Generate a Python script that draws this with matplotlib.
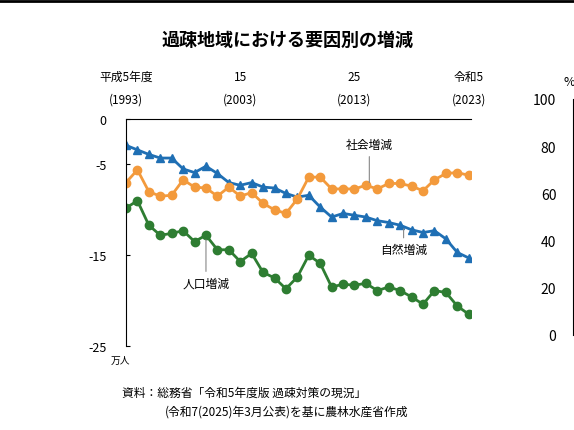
import matplotlib
matplotlib.use("Agg")
import matplotlib.pyplot as plt

plt.rcParams["font.family"] = ["Noto Sans CJK JP", "DejaVu Sans"]

years = list(range(1993, 2024))
natural = [-2.9, -3.4, -3.9, -4.3, -4.3, -5.5, -5.9, -5.2, -6.0, -7.0, -7.3, -7.0, -7.5, -7.6,
           -8.2, -8.6, -8.4, -9.7, -10.8, -10.4, -10.6, -10.8, -11.2, -11.4, -11.7, -12.2,
           -12.5, -12.3, -13.2, -14.7, -15.3]
social = [-7.0, -5.6, -8.0, -8.5, -8.4, -6.7, -7.5, -7.6, -8.5, -7.5, -8.5, -8.1, -9.3, -10.0,
          -10.4, -8.8, -6.4, -6.4, -7.7, -7.7, -7.7, -7.3, -7.7, -7.1, -7.1, -7.4, -7.9,
          -6.7, -6.0, -5.9, -6.2]
total = [-9.8, -9.0, -11.7, -12.8, -12.6, -12.3, -13.5, -12.8, -14.4, -14.4, -15.7, -14.8,
         -16.9, -17.5, -18.7, -17.4, -15.0, -15.9, -18.5, -18.2, -18.3, -18.1, -18.9, -18.5,
         -18.9, -19.6, -20.4, -18.9, -19.1, -20.6, -21.5]
top_ticks = [1993, 2003, 2013, 2023]
top_labels = ["平成5年度\n(1993)", "15\n(2003)", "25\n(2013)", "令和5\n(2023)"]
y_ticks = [0, -5, -15, -25]
right_ticks = [0, 20, 40, 60, 80, 100]

BLUE = "#1f6fb4"
ORANGE = "#f39a3c"
GREEN = "#2e7d32"

fig = plt.figure(figsize=(5.74, 4.31), dpi=100)
ax = fig.add_axes([126 / 574, 1 - 347 / 431, 345 / 574, 227 / 431])

ax.plot(years, natural, color=BLUE, marker="^", ms=6, lw=2)
ax.plot(years, social, color=ORANGE, marker="o", ms=6, lw=2)
ax.plot(years, total, color=GREEN, marker="o", ms=6, lw=2)

ax.set_xlim(1993, 2023.2)
ax.set_ylim(-25, 0)
for s in ["right", "bottom"]:
    ax.spines[s].set_visible(False)
ax.spines["top"].set_linewidth(0.8)
ax.spines["left"].set_linewidth(0.8)
ax.set_yticks(y_ticks)
ax.set_yticklabels([str(v) for v in y_ticks], fontsize=9)
ax.tick_params(axis="y", length=3, direction="in", pad=14)
ax.xaxis.tick_top()
ax.set_xticks(top_ticks)
ax.set_xticklabels(top_labels, fontsize=8.5, linespacing=1.9)
ax.tick_params(axis="x", length=0, pad=10)
ax.text(-0.045, -0.04, "万人", transform=ax.transAxes, fontsize=7, va="top")

# callouts
ax.annotate("社会増減", xy=(2014.3, -7.3), xytext=(2014.3, -3.2), fontsize=8.5,
            ha="center", arrowprops=dict(arrowstyle="-", color="#888", lw=0.8))
ax.annotate("自然増減", xy=(2017.3, -11.8), xytext=(2017.3, -14.8), fontsize=8.5,
            ha="center", arrowprops=dict(arrowstyle="-", color="#888", lw=0.8))
ax.annotate("人口増減", xy=(2000, -13.0), xytext=(2000, -18.5), fontsize=8.5,
            ha="center", arrowprops=dict(arrowstyle="-", color="#888", lw=0.8))

fig.text(287 / 574, 1 - 40 / 431, "過疎地域における要因別の増減", fontsize=13,
         fontweight="bold", ha="center", va="center")
fig.text(122 / 574, 1 - 393 / 431, "資料：総務省「令和5年度版 過疎対策の現況」", fontsize=8.5, va="center")
fig.text(165 / 574, 1 - 412 / 431, "(令和7(2025)年3月公表)を基に農林水産省作成", fontsize=8.5, va="center")

# neighbouring chart, cut off at the right edge
ax2 = fig.add_axes([573 / 574, 1 - 336 / 431, 0.01, 236 / 431])
ax2.set_ylim(0, 100)
ax2.set_yticks(right_ticks)
ax2.set_yticklabels([str(v) for v in right_ticks], fontsize=10)
ax2.tick_params(axis="y", length=0, pad=12)
ax2.set_xticks([])
for s in ["top", "right", "bottom"]:
    ax2.spines[s].set_visible(False)
fig.text(563 / 574, 1 - 82 / 431, "%", fontsize=9, va="center")

# frame line at the top of the page
fig.add_artist(plt.Line2D([0, 1], [1 - 2 / 431] * 2, color="black", lw=2))

fig.savefig("out.png", dpi=100)
